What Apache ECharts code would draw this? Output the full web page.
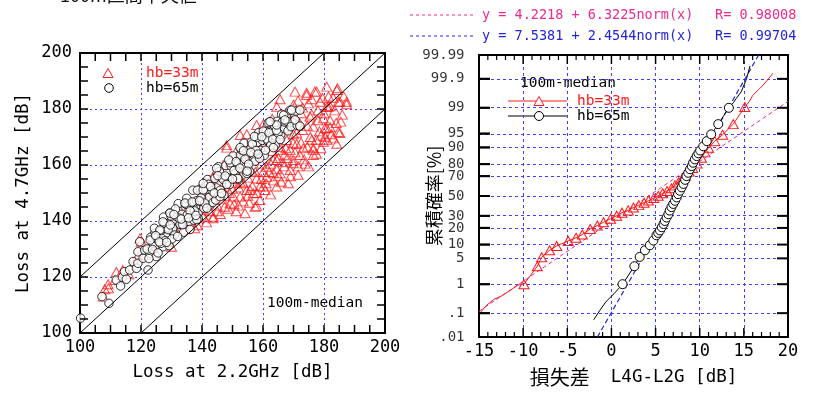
<!DOCTYPE html>
<html><head><meta charset="utf-8">
<script src="https://cdn.jsdelivr.net/npm/echarts@6/dist/echarts.min.js"></script>
<style>html,body{margin:0;padding:0;background:#fff}#c{width:818px;height:394px}</style>
</head><body><div id="c"></div><script>
// ---- Left chart: 100m medians, loss at 2.2GHz (x) vs 4.7GHz (y) ----
const hb33 = [
[107.6,113.0],[108.1,115.6],[109.2,117.4],[109.3,116.0],[111.5,118.9],[111.9,121.8],[114.0,122.5],[116.0,121.0],[117.9,125.5],[119.0,127.5],
[119.7,133.8],[120.1,132.6],[121.5,128.0],[123.0,131.0],[124.5,129.5],[126.0,134.0],[127.0,137.5],[128.5,132.5],[130.0,130.8],[130.5,139.0],
[131.5,136.5],[132.5,142.0],[133.9,141.5],[134.5,137.0],[135.5,145.0],[136.5,139.5],[137.6,137.4],[138.0,146.0],[139.0,141.0],
[140.0,150.0],[140.5,144.0],[141.0,153.9],[141.5,139.5],[142.0,147.5],[142.6,154.6],[143.6,141.0],[143.7,141.5],[144.5,150.0],[145.0,145.5],
[145.5,156.0],[146.0,142.5],[146.5,152.0],[147.0,150.5],[147.4,145.1],[148.1,166.2],[148.1,167.1],[148.6,144.4],[149.2,146.3],[149.2,160.6],
[149.8,155.0],[150.3,148.7],[150.8,158.0],[151.2,143.5],[151.5,162.0],[152.0,152.0],[152.5,148.7],[152.5,170.7],[153.0,158.5],[153.5,153.5],
[154.1,142.8],[154.7,151.1],[154.7,171.0],[155.0,162.0],[155.5,146.5],[155.7,151.1],[156.2,158.0],[156.8,149.9],[157.4,145.1],[157.9,145.4],
[157.9,155.2],[157.9,174.3],[158.5,164.5],[159.0,147.5],[159.0,152.3],[159.5,160.5],[160.1,152.3],[160.1,172.5],[160.1,174.5],[160.7,151.1],
[161.2,155.8],[161.2,159.4],[161.8,167.0],[162.5,149.5],[163.4,157.1],[163.4,161.8],[164.0,170.5],[164.5,152.3],[164.5,161.8],[164.5,180.8],
[165.0,156.0],[165.6,157.0],[165.6,165.4],[165.6,166.5],[165.6,183.5],[166.5,161.0],[167.0,173.0],[167.8,168.9],[168.3,153.5],[168.9,158.2],
[168.9,165.4],[169.5,176.0],[169.9,160.6],[169.9,161.8],[169.9,167.8],[170.5,186.2],[171.0,171.5],[171.5,156.5],[172.1,163.6],[172.5,178.5],
[173.2,166.0],[173.8,160.5],[174.3,185.0],[174.3,185.8],[174.9,182.0],[175.4,177.3],[175.5,170.0],[176.5,163.6],[176.5,165.4],[176.5,166.0],
[176.5,173.7],[177.0,186.2],[177.6,186.2],[178.0,179.5],[178.7,182.6],[179.0,170.5],[179.8,168.3],[179.8,176.7],[180.3,170.1],[180.3,173.1],
[180.9,173.1],[180.9,180.8],[180.9,188.0],[181.4,180.8],[182.0,176.0],[183.0,184.0],[184.2,167.6],[184.2,186.8],[184.4,187.4],[184.7,171.8],
[184.7,182.6],[185.2,171.4],[185.2,182.6],[186.0,178.0],[187.4,181.7],[187.4,182.6],
[171.5,183.0],[173.0,180.5],[176.0,183.5],[178.0,176.0],[181.5,184.5],[183.5,179.5],[172.0,175.0],[167.5,178.5],[166.0,176.0],[163.0,176.5],
[170.0,181.5],[182.5,171.0],[177.5,169.0],[174.5,174.0],[171.0,167.5],[167.0,163.5],[163.0,165.0],[158.0,168.5],[156.0,167.0],[154.0,164.5],
[151.0,164.5],[147.0,160.0],[145.0,158.5],[143.5,155.5],[151.0,153.5],[149.0,150.0],[146.5,148.0],[144.0,147.5],
[150.5,146.0],[152.0,145.5],[153.5,147.0],[155.0,149.0],[156.5,152.5],[158.0,150.0],[159.5,155.0],[161.0,153.5],[162.0,157.5],[163.5,154.5],
[164.5,158.5],[166.0,154.0],[167.0,159.5],[168.0,162.5],[169.0,156.0],[170.5,164.5],[171.5,159.5],[172.5,168.0],[173.5,162.0],[174.5,166.5],
[175.0,159.5],[176.0,169.0],[177.5,164.0],[178.5,172.0],[179.0,166.0],[180.0,178.5],[181.0,169.0],[182.0,173.5],[183.0,169.5],[184.0,175.0],
[185.5,175.5],[186.5,184.5],[182.0,181.0],[179.5,184.0],[176.0,178.0],[173.0,172.5],[170.0,171.0],[167.5,166.0],[165.0,162.5],[162.5,160.5],
[160.0,157.5],[157.5,157.5],[155.0,155.5],[152.5,154.0],[150.0,151.5],[147.5,149.0],[145.0,143.5],[142.5,143.5],[140.5,141.5],[138.5,138.5]
];
const hb65 = [
[100.2,105.3],[107.2,113.0],[109.5,110.6],[111.9,118.9],[113.3,116.8],[113.9,119.9],[114.6,121.9],[115.2,119.2],[116.3,122.5],[117.4,125.5],
[118.5,123.1],[119.0,124.9],[119.6,132.6],[119.0,129.0],[120.7,126.7],[122.3,122.5],[121.2,129.6],[122.9,128.5],[123.9,132.0],[125.0,127.3],
[124.5,135.6],[125.6,133.2],[126.7,136.8],[127.2,130.8],[128.3,134.4],[128.9,139.2],[129.4,142.8],[131.0,140.4],[130.5,136.2],[132.1,143.9],
[133.2,138.6],[134.3,146.3],[135.4,141.5],[137.0,145.1],[138.7,142.8],[139.8,146.9],[142.5,145.7],
[122.0,130.0],[122.6,126.6],[123.2,134.2],[123.8,129.8],[124.4,137.4],[125.0,134.0],[125.6,128.6],[126.2,136.2],[126.8,133.8],[127.4,141.4],
[128.0,133.0],[128.6,137.6],[129.2,131.2],[129.8,141.8],[130.4,137.4],[131.0,135.0],[131.6,141.6],[132.2,146.2],[132.8,138.8],[133.4,142.4],
[134.0,136.0],[134.6,146.6],[135.2,142.2],[135.8,139.8],[136.4,146.4],[137.0,151.0],[137.6,143.6],[138.2,147.2],[138.8,140.8],[139.4,151.4],
[140.0,147.0],[140.6,144.6],[141.2,151.2],[141.8,154.8],[142.4,148.4],[143.0,152.0],[143.6,146.6],[144.2,155.2],[144.8,151.8],[145.4,159.4],
[146.0,151.0],[146.6,155.6],[147.2,149.2],[147.8,159.8],[148.4,155.4],[149.0,153.0],[149.6,159.6],[150.2,163.2],[150.8,156.8],[151.4,160.4],
[152.0,155.0],[152.6,163.6],[153.2,160.2],[153.8,167.8],[154.4,159.4],[155.0,164.0],[155.6,157.6],[156.2,168.2],[156.8,163.8],[157.4,161.4],
[158.0,168.0],[158.6,171.6],[159.2,165.2],[159.8,168.8],[160.4,163.4],[161.0,172.0],[161.6,168.6],[162.2,175.2],[162.8,167.8],[163.4,172.4],
[164.0,167.0],[164.6,175.6],[165.2,172.2],[165.8,170.8],[166.4,175.4],[167.0,173.0],[167.6,177.6],[168.2,172.2],
[126.5,132.0],[127.7,139.2],[128.9,136.9],[130.1,133.6],[131.3,144.3],[132.5,141.0],[133.7,138.7],[134.9,145.9],[136.1,143.6],[137.3,140.3],
[138.5,151.0],[139.7,148.2],[140.9,146.4],[142.1,153.1],[143.3,150.8],[144.5,147.5],[145.7,157.7],[146.9,154.9],[148.1,153.1],[149.3,160.8],
[150.5,158.0],[151.7,155.2],[152.9,165.4],[154.1,162.1],[155.3,160.3],[156.5,167.5],[157.7,165.2],[158.9,162.4],[160.1,172.1],[161.3,169.3],
[162.5,167.0],[163.7,174.2],[164.9,171.4],[166.1,178.1],[167.3,175.3],
[144.8,158.8],[152.5,166.2],[157.9,169.8],[161.7,175.1],[140.4,151.1],[135.0,148.1],[129.5,142.8],[126.2,136.8],[123.0,133.2],
[136.1,137.0],[145.9,148.7],[154.7,157.0],[163.4,166.2],[169.9,175.1],[138.3,140.5],
[124.8,134.8],[126.0,132.5],[127.2,139.7],[128.4,132.4],[129.6,138.6],[130.8,142.3],[132.0,134.5],[133.2,140.7],[134.4,146.4],[135.6,141.1],
[136.8,146.8],[138.0,142.0],[139.2,147.2],[140.4,153.4],[141.6,144.6],[142.8,152.3],[144.0,150.0],[145.2,156.2],[146.4,149.9],[147.6,156.1],
[148.8,161.8],[150.0,155.0],[151.2,161.2],[152.4,158.9],[153.6,165.1],[154.8,157.8],[156.0,164.5],[157.2,170.2],[158.4,163.9],[159.6,170.1],
[160.8,165.3],[162.0,171.5],[163.2,169.2],[164.4,172.4],[165.6,169.1],[166.8,177.8],[168.0,175.5],[169.2,173.7],[170.8,179.3],[171.2,174.2],
[168.9,179.6],[169.4,179.6],[170.5,176.1],[172.1,179.6],[172.1,173.9],[167.2,176.1],[164.5,174.3],[162.3,175.5]
];
// reference lines y = x + 20, y = x, y = x - 20
const refUpper = [[100,120],[180,200]];
const refMid = [[100,100],[200,200]];
const refLower = [[120,100],[200,180]];
const LOSS_MIN = 100, LOSS_MAX = 200;

// ---- Right chart: cumulative probability [%] of loss difference L4G-L2G [dB] ----
const diff33Low = [[-15.0,0.09],[-14.2,0.19],[-13.3,0.32],[-12.5,0.41],[-11.6,0.6],[-10.6,0.94]];
const diff33Mid = [[-9.9,1.0],[-8.4,3.2],[-7.9,5.3],[-7.0,7.6],[-6.2,9.4],[-4.9,11.8],[-4.0,13.5],[-3.3,15.5],[-2.4,19.2],[-1.6,21.8],
[-0.9,24.4],[-0.1,27.4],[0.6,30.2],[1.2,33.0],[1.9,35.2],[2.5,38.0],[3.1,40.5],[3.7,43.0],[4.2,45.2],[4.8,47.8],[5.3,50.2],[5.8,52.8],
[6.3,55.3],[6.8,58.0],[7.2,61.0],[7.6,64.0],[8.0,67.5],[8.4,70.5],[8.8,74.0],[9.2,77.0],[9.7,80.5],[10.2,84.4],[10.6,87.5],[11.0,89.8],
[11.7,92.6],[12.6,94.7],[13.8,97.1],[15.1,99.05]];
const diff33High = [[15.6,99.35],[16.0,99.6],[16.8,99.77],[17.5,99.87],[18.3,99.94]];
const diff65Low = [[-2.0,0.055],[-1.3,0.13],[-0.6,0.27],[0.3,0.5],[0.8,0.72]];
const diff65Mid = [[1.26,1.0],[2.6,3.2],[3.2,5.4],[3.8,7.6],[4.35,9.7],[4.75,12.0],[5.1,15.0],[5.3,16.5],[5.5,18.2],[5.7,20.5],[5.9,23.0],
[6.05,25.5],[6.25,28.5],[6.45,31.5],[6.6,35.0],[6.8,38.5],[7.0,41.7],[7.2,45.0],[7.4,48.5],[7.55,52.0],[7.75,55.5],[7.95,59.0],[8.15,62.5],
[8.35,66.5],[8.5,70.0],[8.7,73.0],[8.9,76.0],[9.1,78.5],[9.25,81.0],[9.45,83.3],[9.65,85.4],[9.85,87.0],[10.05,88.5],[10.4,90.5],[10.8,92.6],
[11.3,94.8],[12.1,97.1],[13.3,99.0]];
const diff65High = [[13.8,99.3],[14.15,99.5],[14.7,99.7],[15.3,99.9],[15.7,99.97]];
// fitted normal lines (end points, in %)
const fit33 = [[-15,0.118],[20,99.37]];
const fit65 = [[-1.59,0.01],[16.67,99.99]];
// probability axis tick labels
const probTicks = [0.01,0.1,1,5,10,20,30,50,70,80,90,95,99,99.9,99.99];
const probLabels = ['.01','.1','1','5','10','20','30','50','70','80','90','95','99','99.9','99.99'];
const DIFF_MIN = -15, DIFF_MAX = 20;

function invNorm(p){
  const a=[-3.969683028665376e+01,2.209460984245205e+02,-2.759285104469687e+02,1.383577518672690e+02,-3.066479806614716e+01,2.506628277459239e+00];
  const b=[-5.447609879822406e+01,1.615858368580409e+02,-1.556989798598866e+02,6.680131188771972e+01,-1.328068155288572e+01];
  const c=[-7.784894002430293e-03,-3.223964580411365e-01,-2.400758277161838e+00,-2.549732539343734e+00,4.374664141464968e+00,2.938163982698783e+00];
  const d=[7.784695709041462e-03,3.224671290700398e-01,2.445134137142996e+00,3.754408661907416e+00];
  const pl=0.02425, ph=1-pl; let q,r;
  if(p<pl){q=Math.sqrt(-2*Math.log(p));return (((((c[0]*q+c[1])*q+c[2])*q+c[3])*q+c[4])*q+c[5])/((((d[0]*q+d[1])*q+d[2])*q+d[3])*q+1);}
  if(p>ph){q=Math.sqrt(-2*Math.log(1-p));return -(((((c[0]*q+c[1])*q+c[2])*q+c[3])*q+c[4])*q+c[5])/((((d[0]*q+d[1])*q+d[2])*q+d[3])*q+1);}
  q=p-0.5;r=q*q;return (((((a[0]*r+a[1])*r+a[2])*r+a[3])*r+a[4])*r+a[5])*q/(((((b[0]*r+b[1])*r+b[2])*r+b[3])*r+b[4])*r+1);
}
const zOf = pct => invNorm(pct/100);
const zTicks = probTicks.map(zOf);
const ZMIN = zTicks[0], ZMAX = zTicks[zTicks.length-1];
const toZ = arr => arr.map(p => [p[0], zOf(p[1])]);
function curve(low, mid, high){
  return [].concat(
    low.map(p => ({value:[p[0], zOf(p[1])], symbol:'none'})),
    mid.map(p => ({value:[p[0], zOf(p[1])]})),
    high.map(p => ({value:[p[0], zOf(p[1])], symbol:'none'})));
}
// tick positions of the box frames
function steps(a, b, s){ const out=[]; for(let v=a; v<=b+1e-9; v+=s) out.push(Math.round(v*1000)/1000); return out; }
const lossTickPos = steps(LOSS_MIN, LOSS_MAX, 5);
const diffMajorPos = steps(DIFF_MIN, DIFF_MAX, 5);
const diffMinorPos = steps(DIFF_MIN, DIFF_MAX, 1).filter(v => v % 5 !== 0);

const MONO = 'DejaVu Sans Mono';
const CJK = 'Noto Sans CJK JP';
const BLUE_GRID = '#3f3fff';
const MAG = '#ee2a8c';
const BLUE = '#2424dd';
const RED = '#ff1a1a';

function boxAxis(extra){
  return Object.assign({
    type:'value',
    axisLine:{show:true, onZero:false, lineStyle:{color:'#000', width:2}},
    axisTick:{show:false},
    axisLabel:{show:false},
    splitLine:{show:false}
  }, extra);
}
const lossLabel = {show:true, margin:6, color:'#000', fontFamily:MONO, fontSize:17};

const baseGraphic = [
    {type:'text', x:60, y:4, style:{text:'100m区間中央値', font:'18px "Noto Sans CJK JP"', fill:'#111', textVerticalAlign:'bottom', verticalAlign:'bottom'}},
    {type:'line', shape:{x1:410,y1:15,x2:475,y2:15}, style:{stroke:MAG, lineWidth:1, lineDash:[3,3]}},
    {type:'text', x:482, y:15, style:{text:'y = 4.2218 + 6.3225norm(x)', font:'13.5px "DejaVu Sans Mono"', fill:MAG, textVerticalAlign:'middle', verticalAlign:'middle'}},
    {type:'text', x:715, y:15, style:{text:'R= 0.98008', font:'13.5px "DejaVu Sans Mono"', fill:MAG, textVerticalAlign:'middle', verticalAlign:'middle'}},
    {type:'line', shape:{x1:410,y1:36,x2:475,y2:36}, style:{stroke:BLUE, lineWidth:1, lineDash:[3,3]}},
    {type:'text', x:482, y:36, style:{text:'y = 7.5381 + 2.4544norm(x)', font:'13.5px "DejaVu Sans Mono"', fill:BLUE, textVerticalAlign:'middle', verticalAlign:'middle'}},
    {type:'text', x:715, y:36, style:{text:'R= 0.99704', font:'13.5px "DejaVu Sans Mono"', fill:BLUE, textVerticalAlign:'middle', verticalAlign:'middle'}},

    {type:'polygon', shape:{points:[[108,68.5],[103,77.5],[113,77.5]]}, style:{stroke:RED, fill:'none', lineWidth:1}},
    {type:'text', x:146, y:73, style:{text:'hb=33m', font:'14.5px "DejaVu Sans Mono"', fill:RED, textVerticalAlign:'middle', verticalAlign:'middle'}},
    {type:'circle', shape:{cx:109, cy:88, r:4.3}, style:{stroke:'#000', fill:'#fff', lineWidth:1}},
    {type:'text', x:146, y:88, style:{text:'hb=65m', font:'14.5px "DejaVu Sans Mono"', fill:'#000', textVerticalAlign:'middle', verticalAlign:'middle'}},
    {type:'text', x:267, y:303, style:{text:'100m-median', font:'14.5px "DejaVu Sans Mono"', fill:'#000', textVerticalAlign:'middle', verticalAlign:'middle'}},

    {type:'text', x:520, y:83, style:{text:'100m-median', font:'14.5px "DejaVu Sans Mono"', fill:'#000', textVerticalAlign:'middle', verticalAlign:'middle'}},
    {type:'line', shape:{x1:508,y1:101,x2:567,y2:101}, style:{stroke:RED, lineWidth:1}},
    {type:'polygon', shape:{points:[[539,96.5],[534,105.5],[544,105.5]]}, style:{stroke:RED, fill:'#fff', lineWidth:1}},
    {type:'text', x:577, y:101, style:{text:'hb=33m', font:'14.5px "DejaVu Sans Mono"', fill:RED, textVerticalAlign:'middle', verticalAlign:'middle'}},
    {type:'line', shape:{x1:508,y1:116,x2:567,y2:116}, style:{stroke:'#000', lineWidth:1}},
    {type:'circle', shape:{cx:539, cy:116, r:4.5}, style:{stroke:'#000', fill:'#fff', lineWidth:1}},
    {type:'text', x:577, y:116, style:{text:'hb=65m', font:'14.5px "DejaVu Sans Mono"', fill:'#000', textVerticalAlign:'middle', verticalAlign:'middle'}}
];

const chart = echarts.init(document.getElementById('c'), null, {renderer:'canvas'});
chart.setOption({
  animation:false,
  backgroundColor:'#fff',
  grid:[
    {left:80, top:53, width:305, height:280, outerBoundsMode:'none'},
    {left:479, top:55, width:309, height:282, outerBoundsMode:'none'}
  ],
  xAxis:[
    boxAxis({gridIndex:0, position:'bottom', min:LOSS_MIN, max:LOSS_MAX, interval:20,
      axisLabel:lossLabel,
      splitLine:{show:true, lineStyle:{color:BLUE_GRID, type:[2,3], width:1}},
      name:'Loss at 2.2GHz [dB]', nameLocation:'middle', nameGap:30, nameMoveOverlap:false,
      nameTextStyle:{fontFamily:MONO, fontSize:17.5, color:'#000'}}),
    boxAxis({gridIndex:0, position:'top', min:LOSS_MIN, max:LOSS_MAX, interval:20}),
    boxAxis({gridIndex:1, position:'bottom', min:DIFF_MIN, max:DIFF_MAX, interval:5,
      axisLabel:lossLabel,
      splitLine:{show:true, lineStyle:{color:BLUE_GRID, type:[3,3], width:1}},
      name:'{a|損失差}{b|  L4G-L2G [dB]}', nameLocation:'middle', nameGap:30, nameMoveOverlap:false,
      nameTextStyle:{color:'#000', rich:{a:{fontFamily:CJK, fontSize:20, color:'#000'}, b:{fontFamily:MONO, fontSize:17.5, color:'#000'}}}}),
    boxAxis({gridIndex:1, position:'top', min:DIFF_MIN, max:DIFF_MAX, interval:5})
  ],
  yAxis:[
    boxAxis({gridIndex:0, position:'left', min:LOSS_MIN, max:LOSS_MAX, interval:20,
      axisLabel:{show:true, margin:8, color:'#000', fontFamily:MONO, fontSize:17},
      splitLine:{show:true, lineStyle:{color:BLUE_GRID, type:[2,3], width:1}},
      name:'Loss at 4.7GHz [dB]', nameLocation:'middle', nameGap:48, nameMoveOverlap:false,
      nameTextStyle:{fontFamily:MONO, fontSize:17.5, color:'#000'}}),
    boxAxis({gridIndex:0, position:'right', min:LOSS_MIN, max:LOSS_MAX, interval:20}),
    boxAxis({gridIndex:1, position:'left', min:ZMIN, max:ZMAX,
      name:'累積確率[%]', nameLocation:'middle', nameGap:36, nameMoveOverlap:false,
      nameTextStyle:{fontFamily:CJK, fontSize:18, color:'#000'}}),
    boxAxis({gridIndex:1, position:'right', min:ZMIN, max:ZMAX})
  ],
  series:[
    {type:'scatter', xAxisIndex:0, yAxisIndex:0, data:hb33, symbol:'triangle', symbolSize:[10,9], silent:true,
      itemStyle:{color:'rgba(255,255,255,0)', borderColor:RED, borderWidth:1}},
    {type:'scatter', xAxisIndex:0, yAxisIndex:0, data:hb65, symbol:'circle', symbolSize:8.5, silent:true,
      itemStyle:{color:'#fff', borderColor:'#000', borderWidth:1}},
    {type:'line', xAxisIndex:0, yAxisIndex:0, data:refUpper, symbol:'none', silent:true, lineStyle:{color:'#000', width:1}},
    {type:'line', xAxisIndex:0, yAxisIndex:0, data:refMid, symbol:'none', silent:true, lineStyle:{color:'#000', width:1}},
    {type:'line', xAxisIndex:0, yAxisIndex:0, data:refLower, symbol:'none', silent:true, lineStyle:{color:'#000', width:1}},

    // probability scale: labels and grid lines placed through the axes
    {type:'scatter', xAxisIndex:2, yAxisIndex:2, silent:true, symbol:'rect', symbolSize:[11,2], symbolOffset:[5.5,0],
      itemStyle:{color:'#000'}, clip:false, z:5,
      data:zTicks.map(z => [DIFF_MIN, z]),
      label:{show:true, position:'left', distance:14.5, color:'#000', fontFamily:MONO, fontSize:14,
        formatter:p => probLabels[p.dataIndex]},
      markLine:{silent:true, symbol:['none','none'], label:{show:false}, z:1,
        lineStyle:{color:BLUE_GRID, type:[3,3], width:1},
        data:zTicks.slice(1, zTicks.length-1).map(z => ({yAxis:z}))}},

    {type:'line', xAxisIndex:2, yAxisIndex:2, data:toZ(fit33), symbol:'none', silent:true, lineStyle:{color:MAG, width:1, type:[4,3]}},
    {type:'line', xAxisIndex:2, yAxisIndex:2, data:toZ(fit65), symbol:'none', silent:true, lineStyle:{color:BLUE, width:1.2, type:[5,3]}},
    {type:'line', xAxisIndex:2, yAxisIndex:2, data:curve(diff33Low, diff33Mid, diff33High), symbol:'triangle', symbolSize:[10,9],
      showAllSymbol:true, silent:true, lineStyle:{color:RED, width:1},
      itemStyle:{color:'rgba(255,255,255,0)', borderColor:RED, borderWidth:1}},
    {type:'line', xAxisIndex:2, yAxisIndex:2, data:curve(diff65Low, diff65Mid, diff65High), symbol:'circle', symbolSize:9,
      showAllSymbol:true, silent:true, lineStyle:{color:'#000', width:1},
      itemStyle:{color:'#fff', borderColor:'#000', borderWidth:1}}
  ],
  graphic: baseGraphic
});

// Box-frame ticks: positions converted to pixels through the chart's own axes
try {
  const tk = [];
  const seg = (g, val, dx, dy, w) => {
    const p = chart.convertToPixel({gridIndex:g}, val);
    if (!p || isNaN(p[0]) || isNaN(p[1])) return;
    tk.push({type:'line', silent:true, z:100, shape:{x1:p[0], y1:p[1], x2:p[0]+dx, y2:p[1]+dy}, style:{stroke:'#000', lineWidth:w}});
  };
  lossTickPos.forEach(v => {
    seg(0, [v, LOSS_MIN], 0, -8, 1.5);
    seg(0, [v, LOSS_MAX], 0, 8, 1.5);
    seg(0, [LOSS_MIN, v], 8, 0, 1.5);
    seg(0, [LOSS_MAX, v], -8, 0, 1.5);
  });
  diffMajorPos.forEach(v => { seg(1, [v, ZMIN], 0, -9, 1.5); seg(1, [v, ZMAX], 0, 9, 1.5); });
  diffMinorPos.forEach(v => { seg(1, [v, ZMIN], 0, -5, 1.2); seg(1, [v, ZMAX], 0, 5, 1.2); });
  zTicks.forEach(z => { seg(1, [DIFF_MIN, z], 11, 0, 2); seg(1, [DIFF_MAX, z], -11, 0, 2); });
  if (tk.length) chart.setOption({graphic: baseGraphic.concat(tk)});
} catch (e) {}
</script></body></html>
